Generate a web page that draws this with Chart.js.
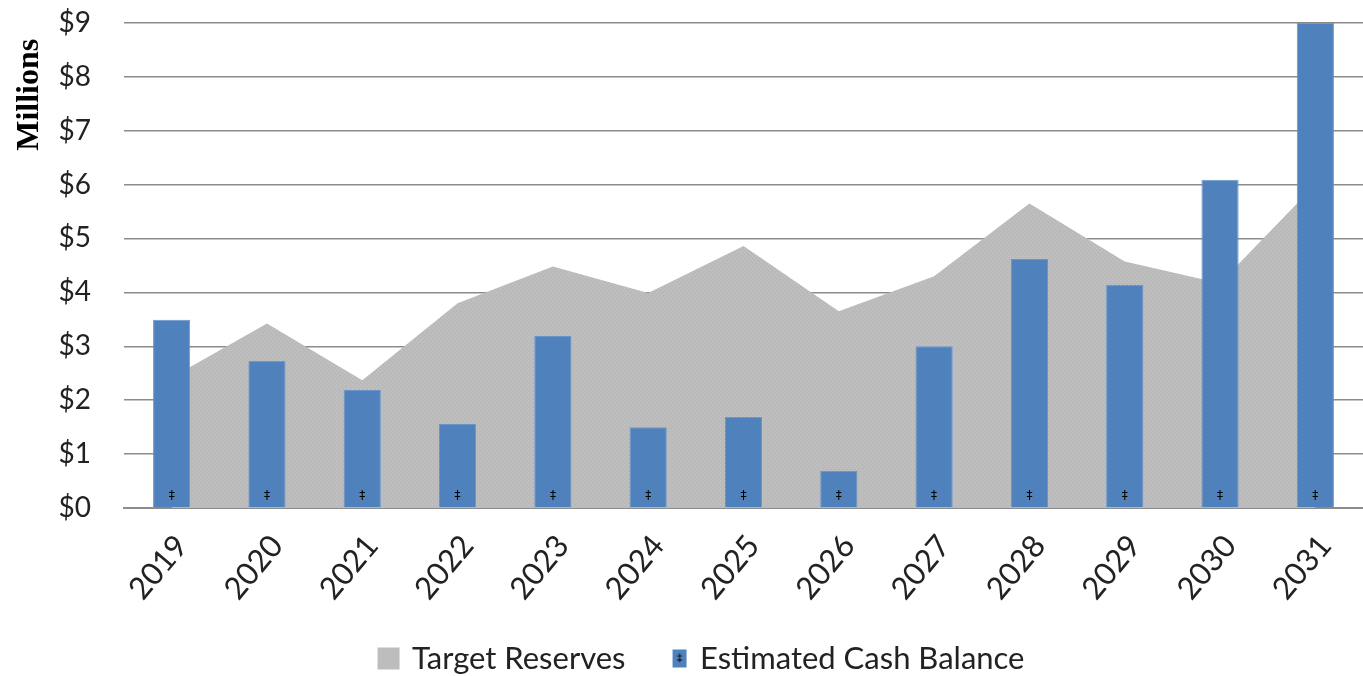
<!DOCTYPE html>
<html>
<head>
<meta charset="utf-8">
<script src="https://cdn.jsdelivr.net/npm/chart.js@4"></script>
<style>
  html, body { margin: 0; padding: 0; background: #fff; }
  #wrap { width: 1363px; height: 676px; }
</style>
</head>
<body>
<div id="wrap"><canvas id="canvas"></canvas></div>
<script>
const years = ['2019', '2020', '2021', '2022', '2023', '2024', '2025', '2026', '2027', '2028', '2029', '2030', '2031']
const targetReserves = [2.42, 3.42, 2.37, 3.80, 4.48, 3.99, 4.86, 3.65, 4.30, 5.65, 4.57, 4.17, 6.0]
const cashBalance = [3.49, 2.73, 2.19, 1.56, 3.19, 1.50, 1.69, 0.69, 3.00, 4.62, 4.14, 6.09, 9.0]
const yTicks = [0, 1, 2, 3, 4, 5, 6, 7, 8, 9]

const textFont = 'Lato'
const textColor = '#222'
const yTickSize = 28
const xTickSize = 31
const legendSize = 31

// stippled grey fill like the office chart
const makeStipple = () => {
    const c = document.createElement('canvas')
    c.width = 4
    c.height = 4
    const ctx = c.getContext('2d')
    ctx.fillStyle = '#bababa'
    ctx.fillRect(0, 0, 4, 4)
    ctx.fillStyle = '#c9c9c9'
    ctx.fillRect(0, 0, 1, 1)
    ctx.fillRect(2, 2, 1, 1)
    return ctx.createPattern(c, 'repeat')
}

// legend swatches: wide transparent canvas, box sits on the right so it hugs the text
const legendSwatch = (x, w, h, color, dagger) => {
    const c = document.createElement('canvas')
    c.width = 140
    c.height = 24
    const ctx = c.getContext('2d')
    ctx.fillStyle = color
    ctx.fillRect(x, (24 - h) / 2, w, h)
    if (dagger) {
        ctx.fillStyle = '#000'
        ctx.font = '11px "DejaVu Sans"'
        ctx.textAlign = 'center'
        ctx.textBaseline = 'middle'
        ctx.fillText('‡', x + w / 2, 12.5)
    }
    return c
}
const greyBox = legendSwatch(80, 22, 22, '#bdbdbd', false)
const blueBox = legendSwatch(87, 14, 18, '#4f81bd', true)

// little double dagger at the foot of each bar
const daggerPlugin = {
    id: 'daggers',
    afterDatasetsDraw(chart) {
        const meta = chart.getDatasetMeta(1)
        const ctx = chart.ctx
        const base = chart.scales.y.getPixelForValue(0)
        ctx.save()
        ctx.fillStyle = '#000'
        ctx.font = '12px "DejaVu Sans"'
        ctx.textAlign = 'center'
        ctx.textBaseline = 'middle'
        meta.data.forEach(bar => ctx.fillText('‡', bar.x, base - 12))
        ctx.restore()
    }
}

// "Millions" sits near the top of the value axis
const unitTitle = {
    id: 'unitTitle',
    afterDraw(chart) {
        const ctx = chart.ctx
        ctx.save()
        ctx.translate(30, chart.scales.y.top + 72)
        ctx.rotate(-Math.PI / 2)
        ctx.fillStyle = '#000'
        ctx.font = 'bold 32px "Liberation Serif"'
        ctx.textAlign = 'center'
        ctx.textBaseline = 'middle'
        ctx.fillText('Millions', 0, 0)
        ctx.restore()
    }
}

const canvas = document.getElementById('canvas')

new Chart(canvas, {
    data: {
        labels: years,
        datasets: [
            {
                type: 'line',
                label: 'Target Reserves',
                data: targetReserves,
                fill: 'origin',
                backgroundColor: makeStipple(),
                borderWidth: 0,
                pointRadius: 0,
                tension: 0,
                pointStyle: greyBox,
                order: 1
            },
            {
                type: 'bar',
                label: 'Estimated Cash Balance',
                data: cashBalance,
                backgroundColor: '#4f81bd',
                borderColor: '#6a95c8',
                borderWidth: 1,
                barPercentage: 0.39,
                categoryPercentage: 1,
                pointStyle: blueBox,
                order: 0
            }
        ]
    },
    plugins: [daggerPlugin, unitTitle],
    options: {
        responsive: true,
        maintainAspectRatio: false,
        animation: false,
        layout: {
            padding: { top: 0, right: 0, left: 0, bottom: -8 }
        },
        scales: {
            x: {
                offset: true,
                grid: { display: false },
                border: { display: true, color: '#8c8c8c', width: 2 },
                ticks: {
                    color: textColor,
                    font: { family: textFont, size: xTickSize },
                    minRotation: 50,
                    maxRotation: 50,
                    padding: 12,
                    labelOffset: 10
                },
                afterFit: (scale) => { scale.height += 23 }
            },
            y: {
                min: 0,
                max: 9,
                afterBuildTicks: (scale) => {
                    scale.ticks = yTicks.map(v => ({ value: v }))
                },
                afterFit: (scale) => { scale.width = 124 },
                grid: {
                    color: '#8c8c8c',
                    lineWidth: 1.5,
                    drawTicks: true,
                    tickLength: 27,
                    tickColor: 'rgba(0,0,0,0)'
                },
                border: { display: false },
                ticks: {
                    color: textColor,
                    font: { family: textFont, size: yTickSize },
                    padding: 6,
                    callback: (v) => '$' + v
                }
            }
        },
        plugins: {
            legend: {
                position: 'bottom',
                labels: {
                    usePointStyle: true,
                    pointStyleWidth: 58,
                    color: textColor,
                    font: { family: textFont, size: legendSize },
                    padding: 1,
                    sort: (a, b) => a.datasetIndex - b.datasetIndex
                }
            },
            tooltip: { enabled: false }
        }
    }
});
</script>
</body>
</html>
